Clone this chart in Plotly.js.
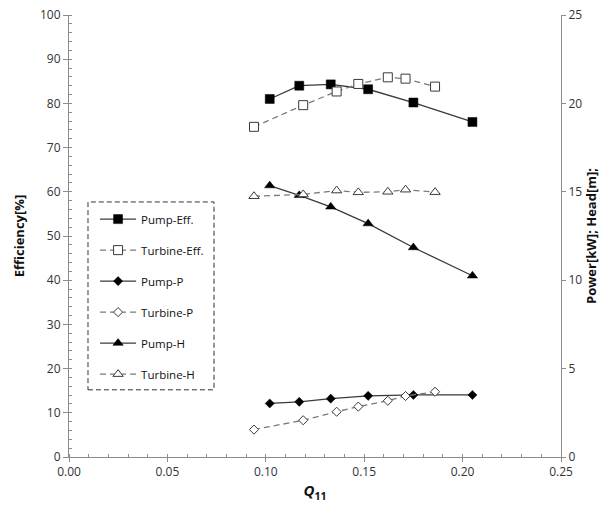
<!DOCTYPE html>
<html>
<head>
<meta charset="utf-8">
<script src="https://cdn.plot.ly/plotly-3.0.1.min.js"></script>
<style>
  html, body { margin: 0; padding: 0; background: #fff; }
  #chart { width: 608px; height: 511px; }
</style>
</head>
<body>
<div id="chart"></div>
<script>
// Unit discharge Q11 for the pump and turbine operating points
const pumpQ = [0.102, 0.117, 0.133, 0.152, 0.175, 0.205];
const turbineQ = [0.094, 0.119, 0.136, 0.147, 0.162, 0.171, 0.186];

// Efficiency [%] (left axis)
const pumpEff = [81.0, 84.0, 84.3, 83.2, 80.2, 75.8];
const turbineEff = [74.7, 79.6, 82.7, 84.4, 85.9, 85.6, 83.8];

// Power [kW] (right axis)
const pumpP = [3.03, 3.12, 3.30, 3.46, 3.51, 3.51];
const turbineP = [1.55, 2.08, 2.56, 2.85, 3.18, 3.45, 3.69];

// Head [m] (right axis)
const pumpH = [15.35, 14.8, 14.15, 13.2, 11.85, 10.25];
const turbineH = [14.75, 14.85, 15.07, 14.97, 15.0, 15.12, 14.98];

const seriesNames = ['Pump-Eff.', 'Turbine-Eff.', 'Pump-P', 'Turbine-P', 'Pump-H', 'Turbine-H'];

const solidLine = { color: '#3a3a3a', width: 1.3 };
const dashLine = { color: '#7a7a7a', width: 1.3, dash: '6px,4px' };
const openMarker = (symbol, size) => ({
  symbol: symbol, size: size, color: '#ffffff',
  line: { color: '#3a3a3a', width: 1 }
});
const filledMarker = (symbol, size) => ({
  symbol: symbol, size: size, color: '#000000',
  line: { color: '#000000', width: 0.5 }
});

function trace(i, x, y, axis, solid, marker) {
  return {
    type: 'scatter', mode: 'lines+markers',
    name: seriesNames[i], legendgroup: 'g' + i,
    x: x, y: y, yaxis: axis,
    line: solid ? solidLine : dashLine,
    marker: marker
  };
}

const data = [
  trace(0, pumpQ, pumpEff, 'y', true, filledMarker('square', 9)),
  trace(1, turbineQ, turbineEff, 'y', false, openMarker('square', 9)),
  trace(2, pumpQ, pumpP, 'y2', true, filledMarker('diamond', 7)),
  trace(3, turbineQ, turbineP, 'y2', false, openMarker('diamond', 7)),
  trace(4, pumpQ, pumpH, 'y2', true, filledMarker('triangle-up', 9)),
  trace(5, turbineQ, turbineH, 'y2', false, openMarker('triangle-up', 9))
];

const axisColor = '#8c8c8c';
const tickFont = { family: 'Open Sans, sans-serif', size: 12, color: '#333333' };
const titleFont = { family: 'Open Sans, sans-serif', size: 13, color: '#111111' };

const layout = {
  width: 608, height: 511,
  margin: { l: 69, r: 47, t: 15, b: 54 },
  paper_bgcolor: '#ffffff', plot_bgcolor: '#ffffff',
  showlegend: true,
  legend: {
    x: 0.053, y: 0.571, xanchor: 'left', yanchor: 'top',
    bgcolor: 'rgba(0,0,0,0)', borderwidth: 0,
    tracegroupgap: 12, itemwidth: 36,
    font: { family: 'Open Sans, sans-serif', size: 11.5, color: '#111111' }
  },
  xaxis: {
    range: [0, 0.25], dtick: 0.05, tickformat: '.2f',
    showgrid: false, zeroline: false,
    showline: true, linecolor: axisColor, linewidth: 1,
    ticks: 'outside', ticklen: 4, tickcolor: axisColor,
    minor: { dtick: 0.01, ticks: 'inside', ticklen: 3, tickcolor: axisColor },
    tickfont: tickFont,
    title: { text: '<b><i>Q</i><sub>11</sub></b>', font: { family: 'Open Sans, sans-serif', size: 15, color: '#111111' }, standoff: 6 }
  },
  yaxis: {
    range: [0, 100], dtick: 10,
    showgrid: false, zeroline: false,
    showline: true, linecolor: axisColor, linewidth: 1,
    ticks: 'outside', ticklen: 5, tickcolor: axisColor,
    minor: { dtick: 2, ticks: 'inside', ticklen: 3, tickcolor: axisColor },
    tickfont: tickFont,
    title: { text: '<b>Efficiency[%]</b>', font: titleFont, standoff: 12 }
  },
  yaxis2: {
    range: [0, 25], dtick: 5, overlaying: 'y', side: 'right',
    showgrid: false, zeroline: false,
    showline: true, linecolor: axisColor, linewidth: 1,
    ticks: 'outside', ticklen: 4, tickcolor: axisColor,
    tickfont: tickFont,
    title: { text: '<b>Power[kW]; Head[m];</b>', font: titleFont, standoff: 5 }
  },
  shapes: [{
    type: 'rect', xref: 'paper', yref: 'paper',
    x0: 0.0386, x1: 0.2947, y0: 0.152, y1: 0.577,
    line: { color: '#333333', width: 1, dash: '5px,3px' },
    fillcolor: 'rgba(0,0,0,0)'
  }]
};

Plotly.newPlot('chart', data, layout, { displayModeBar: false, staticPlot: true });
</script>
</body>
</html>
